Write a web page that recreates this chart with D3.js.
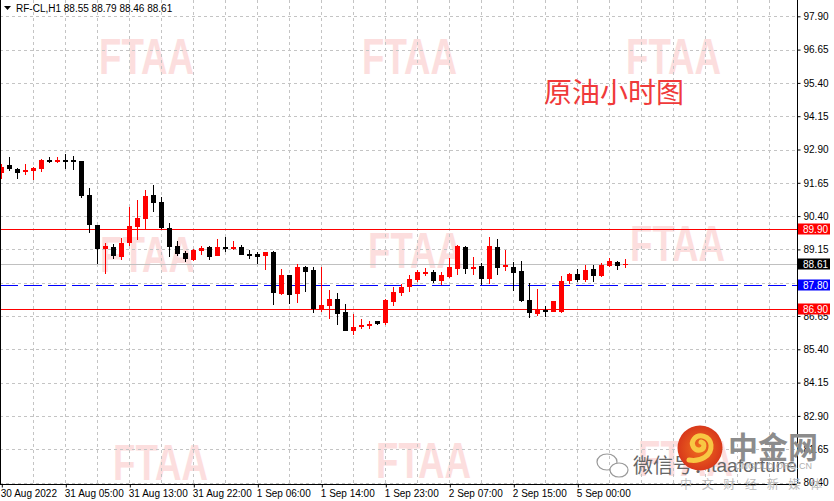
<!DOCTYPE html>
<html>
<head>
<meta charset="utf-8">
<script src="https://cdn.jsdelivr.net/npm/d3@7"></script>
<style>
  html, body { margin: 0; padding: 0; background: #fff; }
  svg { display: block; font-family: "Liberation Sans", Arial, sans-serif; }
</style>
</head>
<body>
<div id="chart"></div>
<script>
// hourly candles, RF-CL H1, 30 Aug 2022 .. 5 Sep 2022
const opens = [92.01,92.32,92.17,92.06,92.09,92.18,92.51,92.43,92.51,92.50,
  92.47,91.19,90.07,89.18,89.25,88.87,89.39,89.99,90.29,91.19,
  90.93,89.95,89.28,89.03,88.75,89.09,89.24,88.91,89.24,89.18,
  89.24,88.99,88.98,88.91,89.05,87.48,88.19,87.48,88.49,88.38,
  86.88,87.04,87.29,86.80,86.10,86.24,86.27,86.46,86.39,87.18,
  87.51,87.74,88.00,88.27,88.30,87.96,88.11,88.41,89.24,88.41,
  88.53,88.04,89.24,88.53,88.49,88.34,87.25,86.72,86.88,86.80,
  86.80,87.96,88.23,88.00,88.41,88.15,88.53,88.68,88.55];
const highs = [92.36,92.63,92.22,92.36,92.23,92.54,92.62,92.62,92.73,92.66,
  92.48,91.44,90.08,89.38,89.35,89.57,90.73,91.00,91.38,91.58,
  91.12,90.13,89.45,89.08,89.15,89.28,89.28,89.54,89.62,89.47,
  89.31,89.13,89.05,89.05,89.08,88.41,88.19,88.60,88.53,88.49,
  88.48,87.63,87.51,87.10,86.72,86.54,86.46,86.48,87.29,87.74,
  87.85,88.19,88.38,88.45,88.38,88.30,88.83,89.31,89.28,88.87,
  88.64,89.62,89.54,89.13,88.68,88.72,87.89,87.66,87.02,87.21,
  88.15,88.26,88.41,88.56,88.56,88.64,88.83,88.72,88.79];
const lows = [91.80,92.10,91.79,91.94,91.76,92.06,92.38,92.40,92.16,92.13,
  91.09,89.78,88.60,88.23,88.78,88.75,89.27,89.50,89.90,90.55,
  89.90,88.88,88.90,88.68,88.72,88.94,88.75,88.91,89.05,89.13,
  88.93,88.79,88.60,88.38,87.06,87.44,87.10,87.14,87.55,86.76,
  86.81,86.55,86.31,86.10,85.94,86.16,86.16,86.31,86.31,87.02,
  87.40,87.55,87.93,88.15,87.89,87.81,88.08,88.19,88.23,88.19,
  87.81,87.85,88.19,88.34,87.59,87.18,86.58,86.65,86.61,86.80,
  86.76,87.85,87.93,87.93,87.93,88.11,88.49,88.38,88.46];
const closes = [92.25,92.16,92.02,92.13,92.21,92.51,92.43,92.51,92.44,92.43,
  91.15,90.08,89.18,89.28,88.90,89.38,90.02,90.33,91.15,90.90,
  89.95,89.25,88.98,88.79,89.13,89.20,88.88,89.24,89.18,89.24,
  88.95,88.91,88.88,89.05,87.51,88.19,87.44,88.49,88.30,86.91,
  87.06,87.29,86.74,86.10,86.24,86.31,86.35,86.35,87.25,87.55,
  87.74,88.04,88.30,88.30,87.96,88.19,88.49,89.28,88.41,88.49,
  88.04,89.28,88.45,88.56,88.26,87.21,86.76,86.91,86.80,87.21,
  87.96,88.23,88.00,88.38,88.15,88.56,88.72,88.53,88.61];

// time axis: one label every 8 bars
const timeTickIdx = [0, 8, 16, 24, 32, 40, 48, 56, 64, 72];
const timeTickLabels = ["30 Aug 2022", "31 Aug 05:00", "31 Aug 13:00", "31 Aug 22:00",
  "1 Sep 06:00", "1 Sep 14:00", "1 Sep 23:00", "2 Sep 07:00", "2 Sep 15:00", "5 Sep 00:00"];

// price axis ticks
const priceTicks = [97.90, 96.65, 95.40, 94.15, 92.90, 91.65, 90.40, 89.15,
  87.90, 86.65, 85.40, 84.15, 82.90, 81.65, 80.40];

// horizontal levels drawn across the chart
const levelValues = [89.90, 88.61, 87.80, 86.90];
const levelKinds = ["red", "bid", "blue", "red"];

const header = "RF-CL,H1  88.55 88.79 88.46 88.61";
const titleText = "原油小时图";

const width = 834, height = 501;
const plotRight = 797, plotBottom = 484;

const svg = d3.select("#chart").append("svg")
  .attr("width", width)
  .attr("height", height);

const x = d3.scaleLinear().domain([0, 1]).range([1.3, 9.3]);
const y = d3.scaleLinear().domain([80.40, 97.90]).range([482.5, 16.3]);

// watermarks
const wmRows = [[99, 74], [362, 74], [626, 74], [100, 272], [368, 268], [630, 261], [113, 480], [376, 478], [638, 476]];
svg.append("g").selectAll("text")
  .data(wmRows)
  .enter().append("text")
  .attr("x", d => d[0])
  .attr("y", d => d[1])
  .attr("textLength", 95)
  .attr("lengthAdjust", "spacingAndGlyphs")
  .style("font-family", "'Liberation Sans', Arial, sans-serif")
  .style("font-weight", "bold")
  .style("font-size", "50px")
  .style("fill", "#fcdede")
  .text("FTAA");

// grid
const grid = svg.append("g")
  .attr("stroke", "#c4c4c4")
  .attr("stroke-dasharray", "3,3")
  .attr("shape-rendering", "crispEdges");

grid.selectAll(".hg")
  .data(priceTicks)
  .enter().append("line")
  .attr("x1", 0).attr("x2", plotRight)
  .attr("y1", d => Math.round(y(d)) + 0.5)
  .attr("y2", d => Math.round(y(d)) + 0.5);

grid.selectAll(".vg")
  .data(d3.range(4, 100, 4).filter(i => x(i) < plotRight))
  .enter().append("line")
  .attr("y1", 0).attr("y2", plotBottom)
  .attr("x1", d => Math.round(x(d)) + 0.5)
  .attr("x2", d => Math.round(x(d)) + 0.5);

// level lines
const levelColor = { red: "#ff0000", bid: "#c0c0c0", blue: "#0000ff" };
svg.append("g").selectAll("line")
  .data(levelValues)
  .enter().append("line")
  .attr("x1", 0).attr("x2", plotRight)
  .attr("y1", d => Math.round(y(d)) + 0.5)
  .attr("y2", d => Math.round(y(d)) + 0.5)
  .attr("stroke", (d, i) => levelColor[levelKinds[i]])
  .attr("stroke-dasharray", (d, i) => levelKinds[i] === "blue" ? "18,6" : null)
  .attr("shape-rendering", "crispEdges");

// candles
const candles = d3.range(opens.length).map(i => ({
  i, o: opens[i], h: highs[i], l: lows[i], c: closes[i]
}));
const col = d => d.c >= d.o ? "#ff0000" : "#000000";

const cg = svg.append("g").attr("shape-rendering", "crispEdges");
cg.selectAll(".wick")
  .data(candles)
  .enter().append("line")
  .attr("x1", d => Math.round(x(d.i)) + 0.5)
  .attr("x2", d => Math.round(x(d.i)) + 0.5)
  .attr("y1", d => y(d.h))
  .attr("y2", d => y(d.l))
  .attr("stroke", col);

cg.selectAll(".body")
  .data(candles)
  .enter().append("rect")
  .attr("x", d => Math.round(x(d.i)) - 2)
  .attr("width", 5)
  .attr("y", d => y(Math.max(d.o, d.c)))
  .attr("height", d => Math.max(1.5, Math.abs(y(d.o) - y(d.c))))
  .attr("fill", col);

// left border
svg.append("line")
  .attr("x1", 0.5).attr("x2", 0.5).attr("y1", 0).attr("y2", plotBottom)
  .attr("stroke", "#000");

// right price axis
const yAxis = svg.append("g")
  .attr("transform", `translate(${plotRight + 0.5},0)`)
  .call(d3.axisRight(y).tickValues(priceTicks).tickSize(3).tickSizeOuter(0)
    .tickFormat(d3.format(".2f")));
yAxis.select(".domain").attr("d", `M0,0V${plotBottom}`);
yAxis.selectAll("text")
  .attr("x", 6)
  .style("font-family", "'Liberation Sans', Arial, sans-serif")
  .style("font-size", "10px")
  .style("fill", "#000");
// the 87.90 label sits under the 87.80 tag, as in the terminal
yAxis.selectAll(".tick").filter(d => d === 87.90).select("text").remove();

// bottom time axis
const xAxis = svg.append("g")
  .attr("transform", `translate(0,${plotBottom + 0.5})`)
  .call(d3.axisBottom(x).tickValues(timeTickIdx).tickSize(3).tickSizeOuter(0)
    .tickFormat((d, i) => timeTickLabels[i]));
xAxis.select(".domain").attr("d", `M0,0H${plotRight}`);
xAxis.selectAll(".tick line").attr("transform", "translate(0.5,0)");
xAxis.selectAll("text")
  .attr("y", 5)
  .attr("dx", "-1")
  .style("text-anchor", "start")
  .style("font-family", "'Liberation Sans', Arial, sans-serif")
  .style("font-size", "10px")
  .style("fill", "#000");
xAxis.selectAll(".tick:first-child text").attr("dx", "-2");

// price level tags on the axis
const tagFill = { red: "#ff0000", bid: "#000000", blue: "#0000ff" };
const tags = svg.append("g").selectAll("g")
  .data(levelValues)
  .enter().append("g")
  .attr("transform", d => `translate(${plotRight + 1},${Math.round(y(d))})`);
tags.append("rect")
  .attr("x", 0).attr("y", -5.5).attr("width", 32).attr("height", 11)
  .attr("fill", (d, i) => tagFill[levelKinds[i]]);
tags.append("text")
  .attr("x", 5).attr("y", 4)
  .style("font-size", "10px")
  .style("fill", "#fff")
  .text(d => d3.format(".2f")(d));

// header
svg.append("path").attr("d", "M4,6H11L7.5,10Z").attr("fill", "#000");
svg.append("text")
  .attr("x", 16).attr("y", 11.5)
  .style("font-size", "10px")
  .style("fill", "#000")
  .text(header);

// red title
svg.append("text")
  .attr("x", 544).attr("y", 103)
  .style("font-family", "'Noto Sans CJK SC', sans-serif")
  .style("font-size", "28px")
  .style("fill", "#f03a3a")
  .text(titleText);

// logo block, bottom right
const logo = svg.append("g");
logo.append("ellipse").attr("cx", 607).attr("cy", 462).attr("rx", 10).attr("ry", 8)
  .attr("fill", "none").attr("stroke", "#999").attr("stroke-width", 1.2);
logo.append("ellipse").attr("cx", 619).attr("cy", 470).attr("rx", 9).attr("ry", 7)
  .attr("fill", "#fff").attr("stroke", "#999").attr("stroke-width", 1.2);
logo.append("text").attr("x", 633).attr("y", 473)
  .style("font-family", "'Noto Sans CJK SC', sans-serif")
  .style("font-size", "20px").style("fill", "#666")
  .text("微信号：");
logo.append("text").attr("x", 706).attr("y", 472)
  .style("font-size", "19px").style("fill", "#666")
  .text("ftaafortune");
logo.append("text").attr("x", 735).attr("y", 469)
  .style("font-size", "9px").style("fill", "#b0b0b0")
  .text("CNGOLD.ORG.CN");
logo.append("text").attr("x", 680).attr("y", 489)
  .attr("textLength", 142)
  .style("font-family", "'Noto Sans CJK SC', sans-serif")
  .style("font-size", "12px").style("fill", "#bbb")
  .text("中文财经新媒体");
const grad = svg.append("defs").append("radialGradient").attr("id", "lg");
grad.append("stop").attr("offset", "0%").attr("stop-color", "#f0701e");
grad.append("stop").attr("offset", "100%").attr("stop-color", "#d8381b");
logo.append("circle").attr("cx", 700).attr("cy", 448).attr("r", 22.5).attr("fill", "url(#lg)");
logo.append("path")
  .attr("d", "M689,460 C700,462 712,456 711,445 C710,436 699,433 694,439 C690,444 694,451 700,450 C705,449 705,443 701,442")
  .attr("fill", "none").attr("stroke", "#f8c743").attr("stroke-width", 5).attr("stroke-linecap", "round");
logo.append("text").attr("x", 728).attr("y", 458)
  .style("font-family", "'Noto Sans CJK SC', sans-serif")
  .style("font-weight", "bold")
  .style("font-size", "30px").style("fill", "#8c8c8c")
  .text("中金网");
</script>
</body>
</html>
